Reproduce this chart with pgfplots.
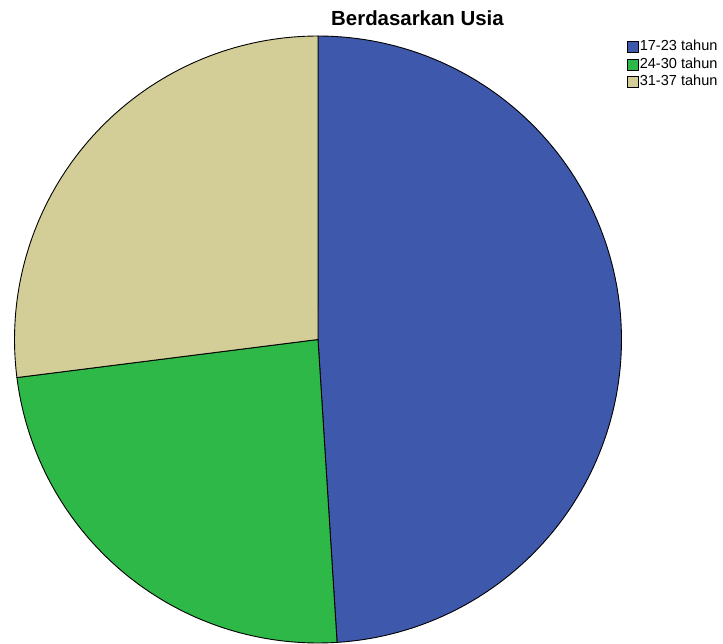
\documentclass[border=0pt]{standalone}
\usepackage{fontspec}
\setmainfont{Liberation Sans}
\usepackage{pgfplots}
\pgfplotsset{compat=1.18}
\definecolor{cA}{RGB}{62,88,172}
\definecolor{cB}{RGB}{46,184,72}
\definecolor{cC}{RGB}{211,206,151}
\begin{document}
\begin{tikzpicture}
% data: counts per age group (percent)
\def\vA{49}\def\vB{24}\def\vC{27}
\pgfmathsetmacro\tot{\vA+\vB+\vC}
\pgfmathsetmacro\aA{90}
\pgfmathsetmacro\aB{\aA-\vA/\tot*360}
\pgfmathsetmacro\aC{\aB-\vB/\tot*360}
\pgfmathsetmacro\aD{\aC-\vC/\tot*360}
\begin{axis}[
  scale only axis, width=723bp, height=643bp,
  xmin=0, xmax=723, ymin=0, ymax=643,
  hide axis, clip=false,
  legend cell align=left,
  legend style={at={(axis cs:627,603)}, anchor=north west, draw=none, fill=none,
    font=\fontsize{14.6}{17}\selectfont, inner sep=0pt, row sep=4bp,
    nodes={inner xsep=1bp, inner ysep=0pt, text height=10.5bp, text depth=3bp},
    /tikz/every even column/.append style={column sep=0bp}},
  legend image code/.code={\draw[#1, draw=black, line width=0.6bp] (0bp,-5.5bp) rectangle (11bp,5.5bp);},
]
\path (axis cs:0,0.5) rectangle (axis cs:723,643);
\addplot[fill=cA, draw=black, line width=0.9bp, domain=\aB:\aA, samples=120, variable=\t]
  ({318+303.5*cos(\t)},{303.5+303.5*sin(\t)}) -- (axis cs:318,303.5) -- cycle;
\addlegendentry{17-23 tahun}
\addplot[fill=cB, draw=black, line width=0.9bp, domain=\aC:\aB, samples=80, variable=\t]
  ({318+303.5*cos(\t)},{303.5+303.5*sin(\t)}) -- (axis cs:318,303.5) -- cycle;
\addlegendentry{24-30 tahun}
\addplot[fill=cC, draw=black, line width=0.9bp, domain=\aD:\aC, samples=80, variable=\t]
  ({318+303.5*cos(\t)},{303.5+303.5*sin(\t)}) -- (axis cs:318,303.5) -- cycle;
\addlegendentry{31-37 tahun}
\node[font=\bfseries\fontsize{20.5}{23}\selectfont, anchor=base west, inner sep=0pt] at (axis cs:331,617) {Berdasarkan Usia};
\end{axis}
\end{tikzpicture}
\end{document}
